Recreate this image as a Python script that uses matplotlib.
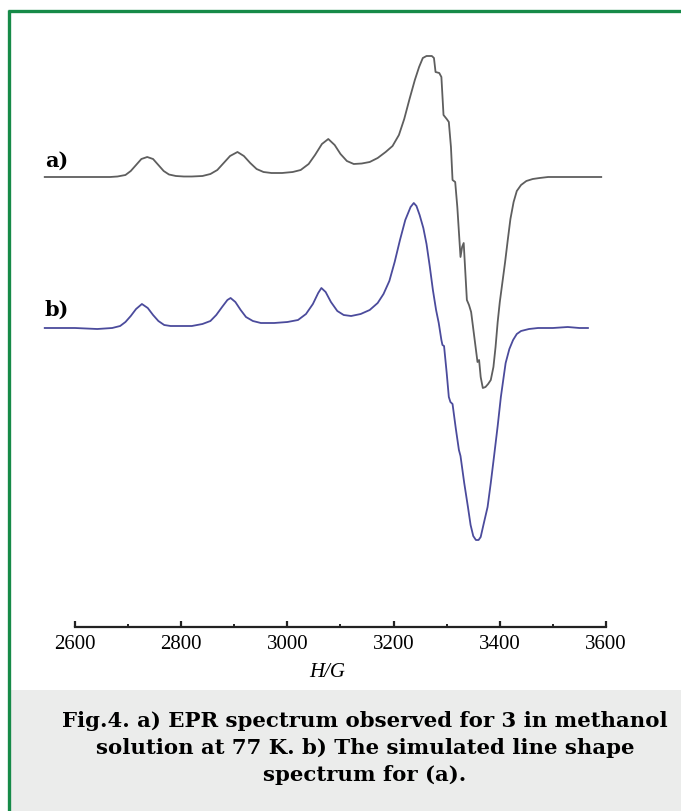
import numpy as np
import matplotlib.pyplot as plt
from matplotlib.patches import Rectangle
from matplotlib.ticker import FixedLocator

# EPR spectra: field in G, signal relative to each baseline
field_a = [2543, 2666, 2680, 2695, 2705, 2715, 2725, 2736, 2747, 2757, 2767,
           2777, 2790, 2805, 2820, 2840, 2855, 2868, 2880, 2892, 2906, 2918,
           2930, 2942, 2955, 2970, 2990, 3010, 3025, 3040, 3052, 3065, 3077,
           3089, 3100, 3112, 3125, 3140, 3155, 3170, 3185, 3198, 3210, 3220,
           3230, 3240, 3248, 3255, 3262, 3272, 3276, 3279, 3286, 3290, 3294,
           3300, 3304, 3308, 3311, 3316, 3320, 3326, 3329, 3332, 3338, 3342,
           3346, 3352, 3358, 3361, 3364, 3368, 3373, 3378, 3383, 3388, 3392,
           3396, 3400, 3405, 3410, 3415, 3420, 3426, 3432, 3440, 3450, 3462,
           3475, 3491, 3591]
sig_a = [0, 0, 0.5, 2, 6, 12, 18, 20, 18, 12, 6,
         2.5, 1, 0.5, 0.5, 1, 3, 7, 14, 21, 25, 21,
         14, 8, 5, 4, 4, 5, 7, 13, 22, 33, 38,
         32, 23, 16, 13, 13.5, 15, 19, 25, 31, 42, 58,
         78, 97, 110, 119, 121, 121, 119, 105, 104, 100, 62,
         58, 55, 30, -3, -5, -30, -80, -70, -66, -123, -128,
         -135, -160, -185, -183, -200, -211, -210, -207, -203, -190, -170,
         -145, -125, -105, -85, -63, -42, -25, -14, -8, -4, -2,
         -1, 0, 0]

field_b = [2543, 2600, 2642, 2670, 2685, 2695, 2705, 2715, 2726, 2737, 2747,
           2757, 2768, 2780, 2800, 2820, 2840, 2855, 2866, 2877, 2887, 2893,
           2902, 2912, 2922, 2935, 2950, 2975, 3000, 3020, 3035, 3048, 3058,
           3064, 3072, 3082, 3094, 3106, 3120, 3138, 3155, 3170, 3181, 3192,
           3202, 3212, 3222, 3232, 3238, 3243, 3249, 3256, 3262, 3268, 3274,
           3280, 3285, 3290, 3292, 3295, 3300, 3304, 3307, 3311, 3317, 3323,
           3326, 3333, 3340, 3345, 3350, 3355, 3360, 3364, 3370, 3377, 3383,
           3389, 3396, 3402, 3407, 3411, 3418, 3425, 3432, 3440, 3455, 3472,
           3500, 3528, 3550, 3566]
sig_b = [0, 0, -1, 0, 2, 6, 12, 19, 24, 20, 13,
         7, 3, 2, 2, 2, 4, 7, 13, 21, 28, 30,
         26, 18, 11, 7, 5, 5, 6, 8, 14, 24, 35,
         40, 36, 26, 17, 13, 12, 14, 18, 25, 34, 47,
         66, 88, 108, 121, 125, 122, 113, 100, 84, 62, 38,
         18, 5, -12, -17, -18, -45, -69, -74, -76, -100, -122,
         -128, -155, -179, -197, -208, -212, -212, -209, -195, -179, -155,
         -129, -98, -69, -50, -35, -21, -12, -6, -3, -1, 0,
         0, 1, 0, 0]

major_ticks = [2600, 2800, 3000, 3200, 3400, 3600]
minor_ticks = [2700, 2900, 3100, 3300, 3500]
caption = ("Fig.4. a) EPR spectrum observed for 3 in methanol\n"
           "solution at 77 K. b) The simulated line shape\n"
           "spectrum for (a).")

W, H = 681, 811
fig = plt.figure(figsize=(W / 100, H / 100), dpi=100)

# background, caption box and green frame in pixel coords
bg = fig.add_axes([0, 0, 1, 1])
bg.set_xlim(0, W)
bg.set_ylim(H, 0)
bg.axis('off')
bg.add_patch(Rectangle((10, 690), W - 10, H - 690, color='#ebeceb', lw=0))
bg.plot([9, 9], [10, H], color='#168a48', lw=2.4, solid_capstyle='butt')
bg.plot([8, W], [11, 11], color='#168a48', lw=2.4, solid_capstyle='butt')
bg.text(365, 748, caption, ha='center', va='center', fontsize=15.3,
        fontweight='bold', family='DejaVu Serif', linespacing=1.42)

# spectrum axes: x maps 2600 G -> 75 px, 3600 G -> 606 px
px_per_g = (606 - 75) / 1000
x0 = 2600 - 75 / px_per_g
x1 = 2600 + (W - 75) / px_per_g
ax_bottom = 627
ax = fig.add_axes([0, (H - ax_bottom) / H, 1, (ax_bottom - 20) / H])
ax.set_xlim(x0, x1)
ax.set_ylim(ax_bottom, 20)
ax.patch.set_alpha(0)

base_a, base_b = 177, 328
ax.plot(field_a, base_a - np.array(sig_a), color='#5e5e5e', lw=1.3)
ax.plot(field_b, base_b - np.array(sig_b), color='#4b4b9c', lw=1.3)
ax.text(2543, 161, 'a)', fontsize=15, fontweight='bold', family='DejaVu Serif',
        va='center', ha='left')
ax.text(2543, 310, 'b)', fontsize=15, fontweight='bold', family='DejaVu Serif',
        va='center', ha='left')

for s in ['top', 'left', 'right']:
    ax.spines[s].set_visible(False)
ax.spines['bottom'].set_bounds(2600, 3600)
ax.spines['bottom'].set_linewidth(1.6)
ax.spines['bottom'].set_color('#222222')
ax.set_yticks([])
ax.set_xticks(major_ticks)
ax.xaxis.set_minor_locator(FixedLocator(minor_ticks))
ax.tick_params(axis='x', which='major', direction='in', length=4, width=1.6,
               color='#222222', pad=6, labelsize=15)
ax.tick_params(axis='x', which='minor', direction='in', length=2.5, width=1.4,
               color='#222222')
for lab in ax.get_xticklabels():
    lab.set_family('Liberation Serif')
ax.set_xlabel('H/G', fontsize=15, family='Liberation Serif', style='italic',
              labelpad=2)
ax.xaxis.set_label_coords((3075 - x0) / (x1 - x0), -0.06)

fig.savefig('out.png', dpi=100)
